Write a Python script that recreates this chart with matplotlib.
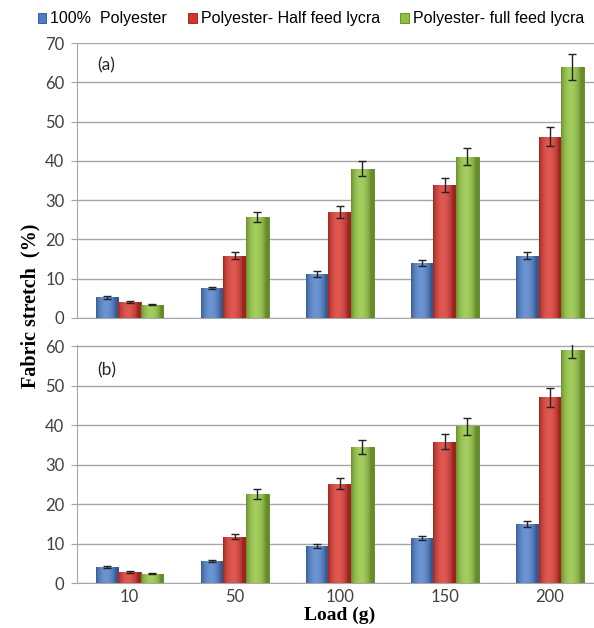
import matplotlib
matplotlib.use("Agg")
import matplotlib.pyplot as plt
import matplotlib.colors as mcolors
import numpy as np

loads = ["10", "50", "100", "150", "200"]
series_names = ["100%  Polyester", "Polyester- Half feed lycra", "Polyester- full feed lycra"]
colors = ["#4b7cc9", "#d8332b", "#8fc23b"]
edge_colors = ["#2f4f86", "#8e1f1a", "#5a8221"]

# panel (a)
a_poly = [5.3, 7.6, 11.2, 14.0, 15.9]
a_half = [4.1, 15.8, 26.9, 33.9, 46.2]
a_full = [3.4, 25.7, 38.0, 41.1, 64.0]
a_poly_err = [0.4, 0.3, 0.7, 0.8, 0.85]
a_half_err = [0.2, 0.9, 1.5, 1.8, 2.5]
a_full_err = [0.2, 1.2, 1.9, 2.1, 3.3]

# panel (b)
b_poly = [4.0, 5.6, 9.4, 11.5, 14.9]
b_half = [2.8, 11.7, 25.2, 35.8, 47.0]
b_full = [2.4, 22.6, 34.4, 39.7, 59.0]
b_poly_err = [0.3, 0.3, 0.6, 0.5, 0.7]
b_half_err = [0.2, 0.6, 1.4, 1.9, 2.3]
b_full_err = [0.2, 1.2, 1.8, 2.1, 1.9]

plt.rcParams['font.family'] = ['Lato', 'DejaVu Sans']

W, H = 594, 628
fig = plt.figure(figsize=(W / 100, H / 100), dpi=100)

def px_axes(left, top, right, bottom):
    return fig.add_axes([left / W, 1 - bottom / H, (right - left) / W, (bottom - top) / H])

ax_a = px_axes(77, 43, 594, 318)
ax_b = px_axes(77, 345, 594, 583)

x = np.arange(len(loads))
bw = 0.215

def gradient_img(color):
    base = np.array(mcolors.to_rgb(color))
    t = np.linspace(0, 1, 64)
    prof = np.sin(np.pi * np.clip(t * 1.15, 0, 1)) ** 0.7  # highlight left of centre
    img = np.zeros((1, 64, 3))
    for k, p in enumerate(prof):
        dark = base * 0.72
        light = base + (1 - base) * 0.18
        img[0, k] = dark + (light - dark) * p
    return np.clip(img, 0, 1)

def draw(ax, vals, errs, ymax, ylim_max, label, label_y):
    for i, (v, e) in enumerate(zip(vals, errs)):
        bars = ax.bar(x + (i - 1) * bw, v, bw, color=colors[i], edgecolor=edge_colors[i],
                      linewidth=0.6, zorder=3, label=series_names[i])
        img = gradient_img(colors[i])
        for b in bars:
            bx, by = b.get_x(), b.get_y()
            bwid, bh = b.get_width(), b.get_height()
            im = ax.imshow(img, extent=[bx, bx + bwid, by, by + bh], aspect='auto',
                           zorder=3.5, interpolation='bilinear')
            im.set_clip_path(b)
        ax.errorbar(x + (i - 1) * bw, v, yerr=e, fmt='none', ecolor='#222222',
                    elinewidth=1, capsize=3, capthick=1, zorder=4)
    ax.set_xlim(-0.5, 4.42)
    ax.set_ylim(0, ylim_max)
    ax.set_yticks(np.arange(0, ymax + 1, 10))
    ax.grid(axis='y', color='#a6a6a6', linewidth=1.0, zorder=0)
    ax.set_axisbelow(True)
    for s in ['top', 'right']:
        ax.spines[s].set_visible(False)
    ax.spines['left'].set_color('#a6a6a6')
    ax.spines['bottom'].set_color('#a6a6a6')
    ax.tick_params(axis='y', colors='#a6a6a6', labelcolor='#404040', labelsize=12, length=4, pad=5)
    ax.tick_params(axis='x', length=0, labelcolor='#404040', labelsize=12, pad=4)
    ax.text(0.039, label_y, label, transform=ax.transAxes, fontsize=12.5, color='#262626',
            va='center', ha='left')

draw(ax_a, [a_poly, a_half, a_full], [a_poly_err, a_half_err, a_full_err], 70, 70, "(a)", 0.92)
draw(ax_b, [b_poly, b_half, b_full], [b_poly_err, b_half_err, b_full_err], 60, 60.3, "(b)", 0.895)

ax_a.set_xticks(x)
ax_a.set_xticklabels([])
ax_b.set_xticks(x)
ax_b.set_xticklabels(loads)

fig.text(340 / W, 1 - 615 / H, "Load (g)", ha='center', va='center', fontsize=14,
         fontweight='bold', family=['Liberation Serif'])
fig.text(30 / W, 1 - 306 / H, "Fabric stretch  (%)", ha='center', va='center', fontsize=14.5,
         fontweight='bold', family=['Liberation Serif'], rotation=90)

handles, labels_ = ax_a.get_legend_handles_labels()
leg = fig.legend(handles, labels_, loc='center', bbox_to_anchor=(311 / W, 1 - 19 / H),
                 ncol=3, frameon=False, handlelength=0.55, handleheight=0.55,
                 handletextpad=0.25, columnspacing=1.3,
                 prop={'family': 'Liberation Sans', 'size': 11.5})

fig.savefig("out.png", dpi=100, facecolor='white')
